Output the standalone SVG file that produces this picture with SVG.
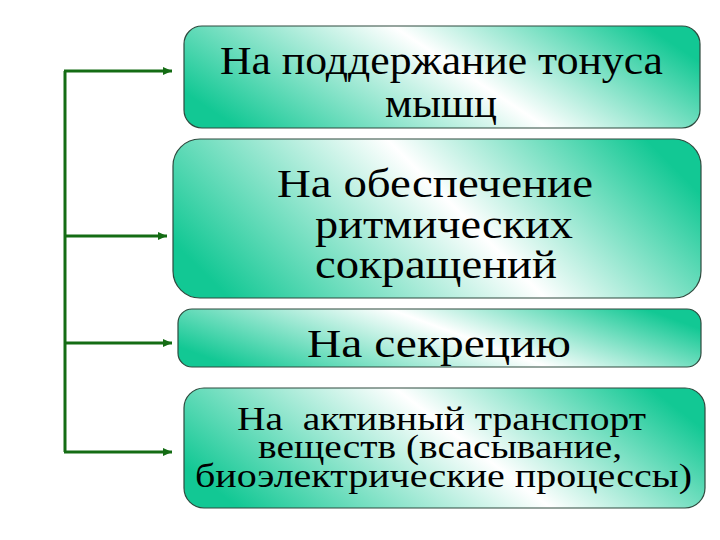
<svg xmlns="http://www.w3.org/2000/svg" width="720" height="540" viewBox="0 0 720 540">
  <defs>
    <linearGradient id="g" x1="0" y1="0.65" x2="1" y2="0.35">
      <stop offset="0" stop-color="#12c894"/>
      <stop offset="0.55" stop-color="#ffffff"/>
      <stop offset="1" stop-color="#12c894"/>
    </linearGradient>
    <marker id="arr" markerWidth="10" markerHeight="10" refX="9" refY="5" orient="auto" markerUnits="userSpaceOnUse">
      <path d="M0,1 L9,5 L0,9 Z" fill="#146c14"/>
    </marker>
  </defs>
  <style>
    .box { fill: url(#g); stroke: #2e4a3e; stroke-width: 1.2; }
    .c { fill: none; stroke: #146c14; stroke-width: 3; }
  </style>
  <rect width="720" height="540" fill="#ffffff"/>
  <g id="connectors">
    <path class="c" d="M65,71 L65,452"/>
    <path class="c" d="M64,71 L172,71" marker-end="url(#arr)"/>
    <path class="c" d="M64,236 L167,236" marker-end="url(#arr)"/>
    <path class="c" d="M64,343 L172,343" marker-end="url(#arr)"/>
    <path class="c" d="M64,452 L172,452" marker-end="url(#arr)"/>
  </g>
  <g font-family="Liberation Serif, DejaVu Serif, serif" fill="#000000">
  <g id="node1">
    <rect class="box" x="184" y="26" width="516" height="102" rx="18"/>
    <text x="220" y="74" font-size="40" textLength="443" lengthAdjust="spacingAndGlyphs">На поддержание тонуса</text>
    <text x="385" y="117" font-size="40" textLength="112" lengthAdjust="spacingAndGlyphs">мышц</text>
  </g>
  <g id="node2">
    <rect class="box" x="173" y="139" width="528" height="159" rx="27"/>
    <text x="277" y="197" font-size="41" textLength="316" lengthAdjust="spacingAndGlyphs">На обеспечение</text>
    <text x="315" y="238" font-size="41" textLength="258" lengthAdjust="spacingAndGlyphs">ритмических</text>
    <text x="315" y="278" font-size="41" textLength="242" lengthAdjust="spacingAndGlyphs">сокращений</text>
  </g>
  <g id="node3">
    <rect class="box" x="178" y="309" width="523" height="58" rx="14"/>
    <text x="307" y="357" font-size="41" textLength="264" lengthAdjust="spacingAndGlyphs">На секрецию</text>
  </g>
  <g id="node4">
    <rect class="box" x="184" y="388" width="521" height="120" rx="20"/>
    <text x="237" y="430" font-size="33" textLength="409" lengthAdjust="spacingAndGlyphs" xml:space="preserve">На  активный транспорт</text>
    <text x="258" y="458" font-size="33" textLength="364" lengthAdjust="spacingAndGlyphs">веществ (всасывание,</text>
    <text x="195" y="487" font-size="33" textLength="497" lengthAdjust="spacingAndGlyphs">биоэлектрические процессы)</text>
  </g>
  </g>
</svg>
